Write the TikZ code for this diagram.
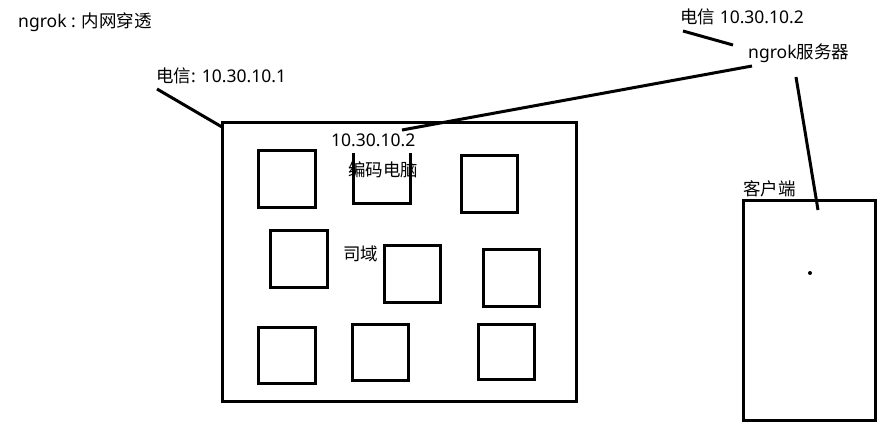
\documentclass[tikz,border=0pt]{standalone}
\usepackage{fontspec}
\setmainfont{Noto Sans}
\newfontfamily\cjk{Noto Sans CJK SC}
\begin{document}
\begin{tikzpicture}[x=1pt,y=-1pt,
  box/.style={draw=black,line width=3pt},
  wire/.style={draw=black,line width=3pt},
  lbl/.style={anchor=west,inner sep=0pt,font=\fontsize{17.5}{20}\selectfont}]
\useasboundingbox (0,0) rectangle (893,434);
% texts
\node[lbl] (title) at (18,22) {ngrok : {\cjk 内网穿透}};
\node[lbl] (isp1) at (156,76) {{\cjk 电信}: 10.30.10.1};
\node[lbl] (isp2) at (680,17) {{\cjk 电信} 10.30.10.2};
\node[lbl] (server) at (748,53) {ngrok{\cjk 服务器}};
\node[lbl] (ip) at (331,140) {10.30.10.2};
\node[lbl,font=\fontsize{17.5}{20}\cjk] (pc) at (348,170) {编码电脑};
\node[lbl,font=\fontsize{17.5}{20}\cjk] (domain) at (343,254) {司域};
\node[lbl,font=\fontsize{17.5}{20}\cjk] (client) at (743,189) {客户端};
% big box
\draw[box] (222,122) rectangle (576,401);
\coordinate (bigcorner) at (222,127);
% small boxes
\draw[box] (258,150) rectangle (315,207);
\draw[box] (353,153) -- (353,203) -- (410,203) -- (410,153);
\draw[box] (461,155) rectangle (517,212);
\draw[box] (270,230) rectangle (327,287);
\draw[box] (384,245) rectangle (440,302);
\draw[box] (483,249) rectangle (539,306);
\draw[box] (258,327) rectangle (315,383);
\draw[box] (352,324) rectangle (408,380);
\draw[box] (478,324) rectangle (534,379);
% client box
\draw[box] (743,200) rectangle (875,420);
\fill (810,273) circle (2pt);
% connectors
\coordinate (a1) at (157,89);
\coordinate (b1) at (402,130);
\coordinate (b2) at (752,66);
\coordinate (c1) at (683,31);
\coordinate (c2) at (733,45);
\coordinate (d1) at (796,77);
\coordinate (d2) at (818,210);
\draw[wire] (a1) -- (bigcorner);
\draw[wire] (b1) -- (b2);
\draw[wire] (c1) -- (c2);
\draw[wire] (d1) -- (d2);
\end{tikzpicture}
\end{document}
